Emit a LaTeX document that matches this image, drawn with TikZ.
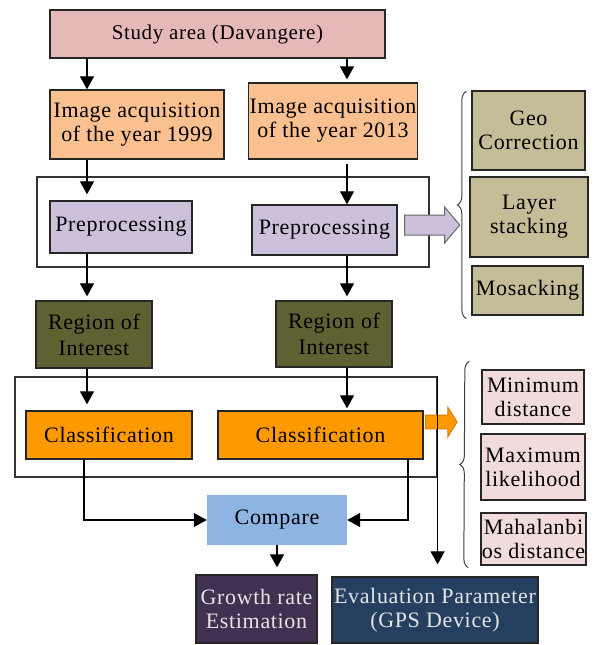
\documentclass[tikz,border=0pt]{standalone}
\usepackage{fontspec}
\setmainfont{Liberation Serif}[LetterSpace=3]
\usetikzlibrary{arrows.meta,shapes.arrows,decorations.pathreplacing}

\definecolor{studypink}{HTML}{E6B9B8}
\definecolor{acqorange}{HTML}{FAC090}
\definecolor{preplilac}{HTML}{CCC0DA}
\definecolor{roiolive}{HTML}{5F6133}
\definecolor{clsorange}{HTML}{FF9900}
\definecolor{cmpblue}{HTML}{8DB4E2}
\definecolor{growthpurple}{HTML}{403151}
\definecolor{evalnavy}{HTML}{243F60}
\definecolor{steptan}{HTML}{C4BD97}
\definecolor{methodpink}{HTML}{F2DCDB}

\begin{document}
\begin{tikzpicture}[x=1pt,y=-1pt,>={Triangle[width=14pt,length=13pt]},
  font=\fontsize{22}{24}\selectfont,
  box/.style={draw=black!85,line width=1.3pt,align=center,inner sep=1pt},
  sidebox/.style={box,fill=steptan},
  methodbox/.style={box,fill=methodpink,font=\fontsize{22}{24}\selectfont},
  frame/.style={draw=black!80,line width=1.2pt},
  arr/.style={->,line width=1.2pt},
  brace/.style={decorate,decoration={brace,amplitude=9pt},line width=1pt,draw=black!75}]
  \useasboundingbox (0,0) rectangle (595,645);
  % column guides
  \coordinate (colL) at (87,0);
  \coordinate (colR) at (347,0);
  \coordinate (outL) at (84,0);
  \coordinate (outR) at (408,0);
  % study area and acquisition
  \node[box,fill=studypink,minimum width=335pt,minimum height=48pt,font=\fontsize{21}{24}\selectfont] (study) at (217.5,34) {Study area (Davangere)};
  \node[box,fill=acqorange,minimum width=174pt,minimum height=69pt] (acq1) at (137,124.5) {Image acquisition\\of the year 1999};
  \node[box,fill=acqorange,minimum width=162pt,minimum height=76pt] (acq2) at (333,121) {Image acquisition\\of the year 2013};
  % preprocessing group
  \node[frame,minimum width=392pt,minimum height=90pt] (preframe) at (233,222) {};
  \node[box,fill=preplilac,minimum width=142pt,minimum height=52pt] (prep1) at (121,227) {Preprocessing};
  \node[box,fill=preplilac,minimum width=145pt,minimum height=50pt] (prep2) at (324.5,230) {Preprocessing};
  \node[single arrow,draw=black!60,line width=1pt,fill=preplilac,minimum height=55pt,inner sep=9.5pt,
    single arrow head extend=8pt,single arrow tip angle=100] (prepout) at (428,225) {};
  % regions of interest
  \node[box,fill=roiolive,minimum width=116pt,minimum height=67pt,font=\fontsize{22}{26}\selectfont] (roi1) at (94,334.5) {Region of\\Interest};
  \node[box,fill=roiolive,minimum width=116pt,minimum height=66pt,font=\fontsize{22}{26}\selectfont] (roi2) at (334,334) {Region of\\Interest};
  % classification group
  \node[frame,minimum width=422pt,minimum height=100pt] (clsframe) at (226,427) {};
  \node[box,fill=clsorange,minimum width=166pt,minimum height=48pt] (cls1) at (109,435) {Classification};
  \node[box,fill=clsorange,minimum width=205pt,minimum height=48pt] (cls2) at (320.5,435) {Classification};
  \node[single arrow,draw=clsorange!80!black,line width=0.8pt,fill=clsorange,minimum height=32pt,inner sep=6.5pt,
    single arrow head extend=8pt,single arrow tip angle=116] (clsout) at (439,422) {};
  % results
  \node[fill=cmpblue,minimum width=140pt,minimum height=50pt] (compare) at (277,520) {Compare};
  \node[box,fill=growthpurple,text=white!90!black,minimum width=121pt,minimum height=68pt] (growth) at (256.5,609) {Growth rate\\Estimation};
  \node[box,fill=evalnavy,text=white!90!black,minimum width=206pt,minimum height=66pt] (eval) at (435,610) {Evaluation Parameter\\(GPS Device)};
  % preprocessing steps
  \node[sidebox,minimum width=113pt,minimum height=79pt] (geo) at (528.5,130.5) {Geo\\Correction};
  \node[sidebox,minimum width=118pt,minimum height=80pt] (layer) at (529,217) {Layer\\stacking};
  \node[sidebox,minimum width=111pt,minimum height=49pt] (mosaic) at (527.5,290.5) {Mosacking};
  % classification methods
  \node[methodbox,minimum width=102pt,minimum height=54pt] (mindist) at (533,397) {Minimum\\distance};
  \node[methodbox,minimum width=104pt,minimum height=66pt] (maxlik) at (533,467) {Maximum\\likelihood};
  \node[methodbox,minimum width=103pt,minimum height=52pt] (maha) at (533.5,539) {Mahalanbi\\os distance};
  % braces
  \draw[brace] ([xshift=-5pt,yshift=-3pt]mosaic.south west) -- ([xshift=-5pt,yshift=-1pt]geo.north west);
  \draw[brace] ([xshift=-12pt,yshift=-2pt]maha.south west) -- ([xshift=-12pt,yshift=8pt]mindist.north west);
  % flow
  \draw[arr] (study.south -| colL) -- (acq1.north -| colL);
  \draw[arr] (study.south -| colR) -- ([yshift=3pt]acq2.north -| colR);
  \draw[arr] (acq1.south -| colL) -- ([yshift=6pt]prep1.north -| colL);
  \draw[arr] ([yshift=-4pt]acq2.south -| colR) -- (prep2.north -| colR);
  \draw[arr] (prep1.south -| colL) -- ([yshift=4pt]roi1.north -| colL);
  \draw[arr] (prep2.south -| colR) -- ([yshift=4pt]roi2.north -| colR);
  \draw[arr] (roi1.south -| colL) -- ([yshift=6pt]cls1.north -| colL);
  \draw[arr] (roi2.south -| colR) -- ([yshift=2pt]cls2.north -| colR);
  \draw[arr] (cls1.south -| outL) |- (compare.west);
  \draw[arr] (cls2.south -| outR) |- (compare.east);
  \draw[arr] (compare.south) -- ([yshift=7pt]compare.south |- growth.north);
  \draw[arr] (clsframe.north east) -- ([yshift=12pt]clsframe.north east |- eval.north);
\end{tikzpicture}
\end{document}
